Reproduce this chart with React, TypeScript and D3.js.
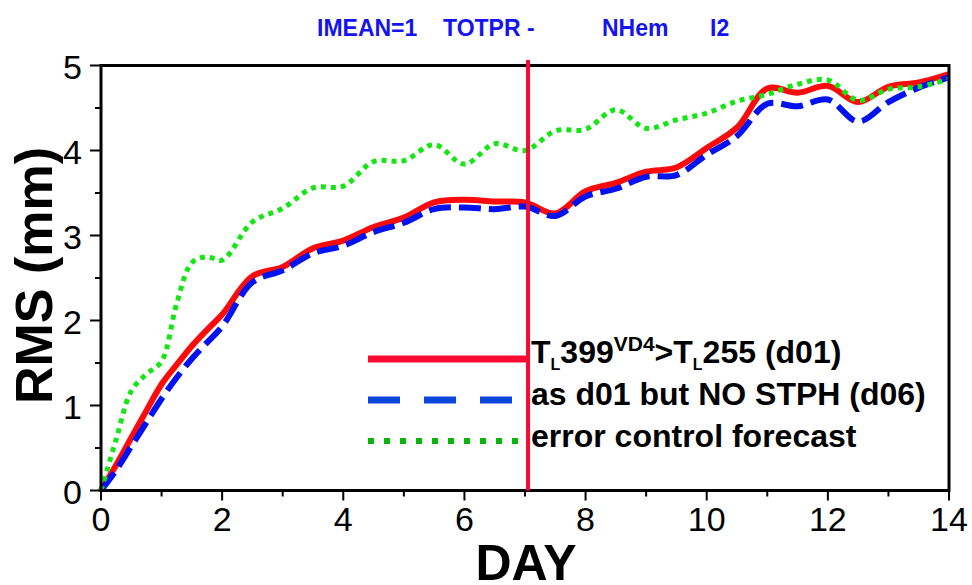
import React from "react";
import * as d3 from "d3";

// Forecast day for every sample (6-hourly for the first two days, then 12-hourly)
const days = [
  0, 0.25, 0.5, 0.75, 1, 1.25, 1.5, 1.75, 2, 2.5, 3, 3.5, 4, 4.5, 5, 5.5, 6,
  6.5, 7, 7.5, 8, 8.5, 9, 9.5, 10, 10.5, 11, 11.5, 12, 12.5, 13, 13.5, 14,
];

// RMS (mm) of total precipitation spread, NHem
const d01 = [
  0, 0.3, 0.62, 0.94, 1.25, 1.48, 1.7, 1.89, 2.07, 2.52, 2.63, 2.85, 2.94,
  3.1, 3.21, 3.39, 3.42, 3.4, 3.39, 3.26, 3.52, 3.62, 3.75, 3.8, 4.03, 4.27,
  4.73, 4.68, 4.76, 4.57, 4.75, 4.8, 4.9,
];
const d06 = [
  0, 0.24, 0.52, 0.8, 1.08, 1.33, 1.55, 1.74, 1.93, 2.45, 2.59, 2.79, 2.88,
  3.04, 3.15, 3.31, 3.33, 3.31, 3.34, 3.23, 3.46, 3.55, 3.69, 3.71, 3.95,
  4.17, 4.55, 4.52, 4.6, 4.34, 4.57, 4.74, 4.86,
];
const controlError = [
  0, 0.6, 1.17, 1.37, 1.52, 2.2, 2.68, 2.75, 2.71, 3.16, 3.32, 3.56, 3.58,
  3.87, 3.88, 4.07, 3.84, 4.08, 4.0, 4.23, 4.25, 4.48, 4.26, 4.36, 4.44,
  4.58, 4.66, 4.78, 4.83, 4.59, 4.72, 4.75, 4.84,
];

const xMajorTicks = [0, 2, 4, 6, 8, 10, 12, 14];
const xMinorTicks = [1, 3, 5, 7, 9, 11, 13];
const yMajorTicks = [0, 1, 2, 3, 4, 5];
const yMinorTicks = [0.5, 1.5, 2.5, 3.5, 4.5];

const markerDay = 7.05;

const titleParts = [
  { text: "IMEAN=1", x: 317 },
  { text: "TOTPR -", x: 443 },
  { text: "NHem", x: 602 },
  { text: "I2", x: 710 },
];

const legendLabels = [
  "T_L399^VD4>T_L255 (d01)",
  "as d01 but NO STPH (d06)",
  "error control forecast",
];

const FONT = "'Liberation Sans', Arial, Helvetica, sans-serif";

export default function App() {
  const width = 972;
  const height = 585;
  const left = 101;
  const right = 949;
  const top = 65.5;
  const bottom = 490.5;

  const x = d3.scaleLinear().domain([0, 14]).range([left, right]);
  const y = d3.scaleLinear().domain([0, 5]).range([bottom, top]);

  const line = d3
    .line<number>()
    .x((_, i) => x(days[i]))
    .y((v) => y(v))
    .curve(d3.curveCatmullRom.alpha(0.5));

  const legendX0 = 368;
  const legendX1 = 526;
  const legendRows = [359, 400, 441];
  const legendText = 531;

  return (
    <svg
      width={width}
      height={height}
      style={{ position: "absolute", left: 0, top: 0, background: "#fff" }}
      fontFamily={FONT}
    >
      <rect x={0} y={0} width={width} height={height} fill="#fff" />

      {/* title */}
      {titleParts.map((p) => (
        <text
          key={p.text}
          x={p.x}
          y={36}
          fontSize={23}
          fontWeight="bold"
          fill="#1414f0"
        >
          {p.text}
        </text>
      ))}

      {/* series */}
      <path
        d={line(d01) || ""}
        fill="none"
        stroke="#ff0a0a"
        strokeWidth={6}
        strokeLinejoin="round"
      />
      <path
        d={line(d06) || ""}
        fill="none"
        stroke="#0012f0"
        strokeWidth={6}
        strokeDasharray="22 8"
      />
      <path
        d={line(controlError) || ""}
        fill="none"
        stroke="#14e614"
        strokeWidth={5}
        strokeDasharray="5 5"
      />

      {/* frame */}
      <rect
        x={left}
        y={top}
        width={right - left}
        height={bottom - top}
        fill="none"
        stroke="#000"
        strokeWidth={3}
      />

      {/* y ticks */}
      {yMajorTicks.map((t) => (
        <g key={"ym" + t}>
          <line x1={left - 11} x2={left} y1={y(t)} y2={y(t)} stroke="#000" strokeWidth={2} />
          <text
            x={82}
            y={y(t) + 13}
            fontSize={34}
            textAnchor="end"
            fill="#000"
          >
            {t}
          </text>
        </g>
      ))}
      {yMinorTicks.map((t) => (
        <line key={"yn" + t} x1={left - 6} x2={left} y1={y(t)} y2={y(t)} stroke="#000" strokeWidth={2} />
      ))}

      {/* x ticks */}
      {xMajorTicks.map((t) => (
        <g key={"xm" + t}>
          <line x1={x(t)} x2={x(t)} y1={bottom} y2={bottom + 10} stroke="#000" strokeWidth={2} />
          <text x={x(t)} y={530.5} fontSize={34} textAnchor="middle" fill="#000">
            {t}
          </text>
        </g>
      ))}
      {xMinorTicks.map((t) => (
        <line key={"xn" + t} x1={x(t)} x2={x(t)} y1={bottom} y2={bottom + 6} stroke="#000" strokeWidth={2} />
      ))}

      {/* axis titles */}
      <text
        transform={`translate(52, 275.5) rotate(-90)`}
        fontSize={52}
        fontWeight="bold"
        textAnchor="middle"
        fill="#000"
      >
        RMS (mm)
      </text>
      <text x={526} y={580} fontSize={50} fontWeight="bold" textAnchor="middle" fill="#000">
        DAY
      </text>

      {/* legend */}
      <line x1={legendX0} x2={legendX1} y1={legendRows[0]} y2={legendRows[0]} stroke="#fa0a32" strokeWidth={7} />
      <line
        x1={legendX0}
        x2={514}
        y1={legendRows[1]}
        y2={legendRows[1]}
        stroke="#0a46dc"
        strokeWidth={7}
        strokeDasharray="32 24"
      />
      <line
        x1={legendX0}
        x2={522}
        y1={legendRows[2]}
        y2={legendRows[2]}
        stroke="#08b408"
        strokeWidth={6}
        strokeDasharray="6 10"
      />
      <text x={legendText} y={363} fontSize={32} fontWeight="bold" fill="#000">
        T
        <tspan fontSize={16} dy={7}>L</tspan>
        <tspan dy={-7}>399</tspan>
        <tspan fontSize={21} dy={-12}>VD4</tspan>
        <tspan dy={12}>{">"}T</tspan>
        <tspan fontSize={16} dy={7}>L</tspan>
        <tspan dy={-7}>255 (d01)</tspan>
      </text>
      <text x={legendText} y={405} fontSize={32} fontWeight="bold" fill="#000">
        {legendLabels[1]}
      </text>
      <text x={legendText} y={447} fontSize={32} fontWeight="bold" fill="#000">
        {legendLabels[2]}
      </text>

      {/* marker line */}
      <line
        x1={x(markerDay)}
        x2={x(markerDay)}
        y1={60}
        y2={bottom}
        stroke="#fa0a32"
        strokeWidth={4}
      />
    </svg>
  );
}
